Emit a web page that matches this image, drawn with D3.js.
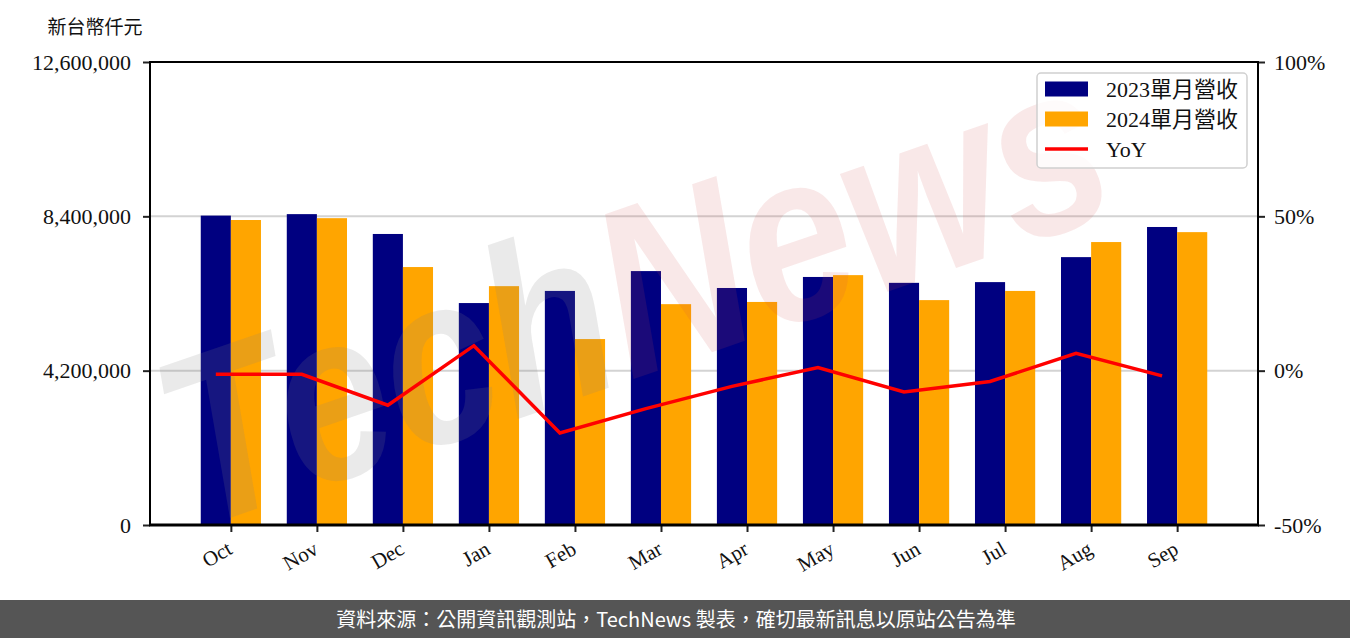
<!DOCTYPE html>
<html>
<head>
<meta charset="utf-8">
<script src="https://cdn.jsdelivr.net/npm/d3@7"></script>
<style>
html,body{margin:0;padding:0;background:#fff;}
svg{display:block;}
.serif{font-family:"Liberation Serif","DejaVu Serif","Noto Sans CJK TC",serif;}
</style>
</head>
<body>
<svg id="chart" width="1350" height="638"></svg>
<script>
// ---- data ----
const months = ["Oct","Nov","Dec","Jan","Feb","Mar","Apr","May","Jun","Jul","Aug","Sep"];
const rev2023 = [8420000,8460000,7920000,6040000,6370000,6910000,6450000,6750000,6590000,6610000,7290000,8110000];
const rev2024 = [8300000,8350000,7020000,6500000,5060000,6010000,6070000,6800000,6120000,6370000,7700000,7970000];
const yoy = [-1.2,-1.2,-11.2,8.1,-20.2,-12.3,-5.1,1.0,-6.9,-3.5,5.6,-1.7];
const leftTicks = [0,4200000,8400000,12600000];
const rightTicks = [-50,0,50,100];
const seriesNames = ["2023單月營收","2024單月營收","YoY"];
const unitLabel = "新台幣仟元";
const footerText = "資料來源：公開資訊觀測站，TechNews 製表，確切最新訊息以原站公告為準";

// ---- layout ----
const W = 1350, H = 638;
const L = 150, R = 1258, T = 62, B = 525;
const svg = d3.select("#chart");

const x = d3.scalePoint().domain(months).range([L, R]).padding(0.94);
const step = x.step();
const bw = step * 0.35;
const yL = d3.scaleLinear().domain([0, 12600000]).range([B, T]);
const yR = d3.scaleLinear().domain([-50, 100]).range([B, T]);

const FS = 22;

// gridlines
svg.append("g").selectAll("line").data([4200000, 8400000]).join("line")
  .attr("x1", L).attr("x2", R)
  .attr("y1", d => yL(d)).attr("y2", d => yL(d))
  .attr("stroke", "#d3d3d3").attr("stroke-width", 2);

// bars
svg.append("g").selectAll("rect").data(rev2023).join("rect")
  .attr("x", (d, i) => x(months[i]) - bw)
  .attr("y", d => yL(d)).attr("width", bw).attr("height", d => B - yL(d))
  .attr("fill", "#000080");
svg.append("g").selectAll("rect").data(rev2024).join("rect")
  .attr("x", (d, i) => x(months[i]))
  .attr("y", d => yL(d)).attr("width", bw).attr("height", d => B - yL(d))
  .attr("fill", "#FFA500");

// watermark (clipped to plot area)
svg.append("clipPath").attr("id", "plotclip").append("rect")
  .attr("x", L).attr("y", T).attr("width", R - L).attr("height", B - T);
const wm = svg.append("g").attr("clip-path", "url(#plotclip)").append("text")
  .attr("transform", "translate(660,370) rotate(-19) scale(1,1.2)")
  .attr("text-anchor", "middle")
  .style("font-family", "'Liberation Sans', sans-serif")
  .style("font-weight", "bold").style("font-style", "italic")
  .style("font-size", "200px");
wm.append("tspan").text("Tech").attr("fill", "#808080").attr("fill-opacity", 0.17);
wm.append("tspan").text("News").attr("fill", "#d05050").attr("fill-opacity", 0.13);

// line
const line = d3.line().x((d, i) => x(months[i]) - bw / 2).y(d => yR(d));
svg.append("path").datum(yoy).attr("d", line)
  .attr("fill", "none").attr("stroke", "#FF0000").attr("stroke-width", 3.5)
  .attr("stroke-linejoin", "miter");

// axes
const axL = svg.append("g").attr("transform", `translate(${L},0)`)
  .call(d3.axisLeft(yL).tickValues(leftTicks).tickFormat(d3.format(",")).tickSize(7).tickPadding(12));
const axR = svg.append("g").attr("transform", `translate(${R},0)`)
  .call(d3.axisRight(yR).tickValues(rightTicks).tickFormat(d => d + "%").tickSize(7).tickPadding(9));
const axB = svg.append("g").attr("transform", `translate(0,${B})`)
  .call(d3.axisBottom(x).tickSize(7).tickPadding(4));
[axL, axR, axB].forEach(g => {
  g.select(".domain").remove();
  g.selectAll(".tick line").attr("stroke", "#222").attr("stroke-width", 2);
  g.selectAll(".tick text").attr("class", "serif").style("font-size", FS + "px").attr("fill", "#111");
});
axB.selectAll(".tick text")
  .style("font-size", "21px")
  .attr("text-anchor", "end")
  .attr("transform", "rotate(-30)")
  .attr("x", -12).attr("y", 18).attr("dy", "0.35em");

// frame
svg.append("rect").attr("x", L).attr("y", T).attr("width", R - L).attr("height", B - T)
  .attr("fill", "none").attr("stroke", "#000").attr("stroke-width", 2);
svg.append("line").attr("x1", L - 1).attr("x2", R + 1).attr("y1", B).attr("y2", B)
  .attr("stroke", "#000").attr("stroke-width", 3);

// unit label
svg.append("text").attr("x", 95).attr("y", 27).attr("dy", "0.35em")
  .attr("text-anchor", "middle")
  .style("font-family", "'Noto Sans CJK TC', sans-serif").style("font-size", "19px").attr("fill", "#111")
  .text(unitLabel);

// legend
const lg = svg.append("g");
lg.append("rect").attr("x", 1037).attr("y", 73).attr("width", 210).attr("height", 95).attr("rx", 4)
  .attr("fill", "#fff").attr("fill-opacity", 0.8).attr("stroke", "#d0d0d0").attr("stroke-width", 1.5);
const lgColors = ["#000080", "#FFA500", "#FF0000"];
seriesNames.forEach((n, i) => {
  const cy = 89 + i * 30;
  if (i < 2) {
    lg.append("rect").attr("x", 1045).attr("y", cy - 7.5).attr("width", 43).attr("height", 15).attr("fill", lgColors[i]);
  } else {
    lg.append("line").attr("x1", 1045).attr("x2", 1088).attr("y1", cy).attr("y2", cy)
      .attr("stroke", lgColors[i]).attr("stroke-width", 3.5);
  }
  lg.append("text").attr("x", 1106).attr("y", cy).attr("dy", "0.35em").attr("class", "serif")
    .style("font-size", FS + "px").attr("fill", "#111").text(n);
});

// footer
svg.append("rect").attr("x", 0).attr("y", 600).attr("width", W).attr("height", 38).attr("fill", "#555555");
svg.append("text").attr("x", 676).attr("y", 620).attr("dy", "0.35em").attr("text-anchor", "middle")
  .style("font-family", "'Noto Sans CJK TC', sans-serif").style("font-size", "20px").attr("fill", "#fff")
  .text(footerText);
</script>
</body>
</html>
